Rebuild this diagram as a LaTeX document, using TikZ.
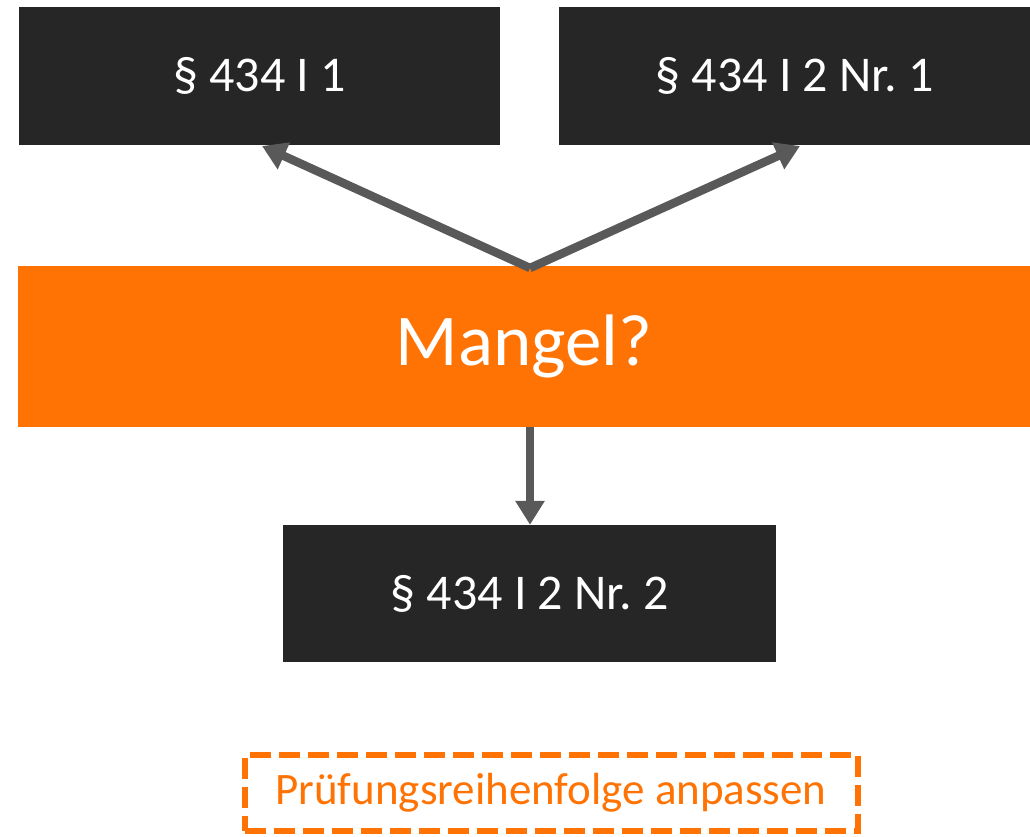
\documentclass[tikz,border=0pt]{standalone}
\usepackage{fontspec}
\setmainfont{Carlito}
\frenchspacing
\usetikzlibrary{arrows.meta}
\definecolor{boxdark}{HTML}{262626}
\definecolor{orng}{HTML}{FF7304}
\definecolor{arr}{HTML}{595959}
\begin{document}
\begin{tikzpicture}[x=1pt,y=-1pt,
  darkbox/.style={fill=boxdark,text=white,inner sep=0pt,font=\fontsize{50}{56}\selectfont},
  conn/.style={draw=arr,line width=8.5pt,-{Triangle[length=24pt,width=28pt]}}]
\useasboundingbox (0,0) rectangle (1030,836);
\node[darkbox,minimum width=481pt,minimum height=138pt] (b1) at (259.5,76) {§ 434 I 1};
\node[darkbox,minimum width=471pt,minimum height=138pt] (b2) at (794.5,76) {§ 434 I 2 Nr. 1};
\node[fill=orng,text=white,inner sep=0pt,minimum width=1012pt,minimum height=161pt,font=\fontsize{73}{80}\selectfont] (m) at (524,346.5) {Mangel?};
\node[darkbox,minimum width=493pt,minimum height=137pt] (b3) at (529.5,593.5) {§ 434 I 2 Nr. 2};
\node[draw=orng,line width=6pt,dash pattern=on 21pt off 8pt,text=orng,inner sep=0pt,minimum width=613pt,minimum height=76pt,font=\fontsize{45}{50}\selectfont] (p) at (551,792.5) {Prüfungsreihenfolge anpassen};
\coordinate (top) at (530,268);
\coordinate (t1) at (262,146);
\coordinate (t2) at (800,146);
\draw[conn] (top) -- (t1);
\draw[conn] (top) -- (t2);
\draw[conn] (m.south -| 530,0) -- (b3.north -| 530,0);
\end{tikzpicture}
\end{document}
